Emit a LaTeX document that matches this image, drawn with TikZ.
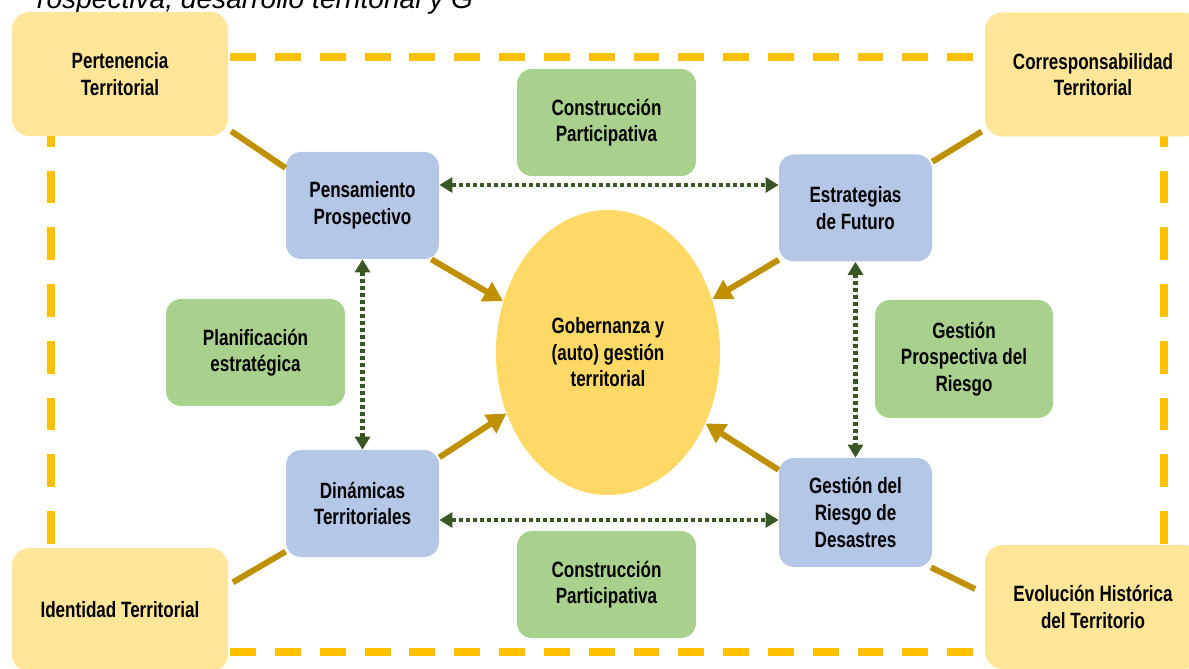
\documentclass[tikz,border=0pt]{standalone}
\usepackage{fontspec}
\setmainfont{Liberation Sans}[FakeStretch=0.77,UprightFont=*-Bold]
\newfontfamily\captionfont{Liberation Sans}
\usetikzlibrary{shapes.geometric,arrows.meta}

\definecolor{marco}{HTML}{FFC000}
\definecolor{arena}{HTML}{FFE699}
\definecolor{celeste}{HTML}{B4C7E7}
\definecolor{verde}{HTML}{A9D18E}
\definecolor{oro}{HTML}{FFD966}
\definecolor{ocre}{HTML}{BF9000}
\definecolor{musgo}{HTML}{385723}

\tikzset{
  caja/.style={rounded corners=0.3cm, align=center, inner sep=0pt,
    font=\fontsize{12.6}{15.1}\selectfont},
  exterior/.style={caja, fill=arena, minimum width=4.32cm, minimum height=2.48cm, rounded corners=0.35cm},
  eje/.style={caja, fill=celeste, minimum width=3.06cm, minimum height=2.14cm},
  enlace/.style={caja, fill=verde, minimum width=3.58cm, minimum height=2.14cm},
  centro/.style={ellipse, fill=oro, minimum width=4.48cm, minimum height=5.7cm, align=center,
    inner sep=0pt, font=\fontsize{12.6}{15.1}\selectfont},
  union/.style={draw=ocre, line width=3.4pt},
  aporte/.style={union, -{Triangle[length=11pt,width=12pt]}},
  ciclo/.style={draw=musgo, line width=2.3pt, dash pattern=on 2.3pt off 1.7pt,
    {Triangle[length=7.4pt,width=8.5pt]}-{Triangle[length=7.4pt,width=8.5pt]}}
}

\begin{document}
\begin{tikzpicture}
\clip (0,0) rectangle (23.78,13.36);

% marco discontinuo
\draw[marco, line width=4.5pt, dash pattern=on 14.7pt off 10.8pt] (1.02,12.22) -- (23.28,12.22);
\draw[marco, line width=4.5pt, dash pattern=on 14.7pt off 10.8pt] (1.02,0.32) -- (23.28,0.32);
\draw[marco, line width=4.5pt, dash pattern=on 18.7pt off 13.6pt] (1.02,12.22) -- (1.02,0.32);
\draw[marco, line width=4.5pt, dash pattern=on 18.7pt off 13.6pt] (23.28,12.22) -- (23.28,0.32);

\node[anchor=base west, font=\captionfont\itshape\fontsize{16}{18}\selectfont] (titulo)
  at (0.62,13.18) {rospectiva, desarrollo territorial y G};

\node[exterior] (pert) at (2.40,11.88) {Pertenencia\\Territorial};
\node[exterior] (corr) at (21.86,11.87) {Corresponsabilidad\\Territorial};
\node[exterior] (iden) at (2.40,1.16) {Identidad Territorial};
\node[exterior] (evol) at (21.86,1.22) {Evolución Histórica\\del Territorio};

\node[eje] (pens) at (7.25,9.25) {Pensamiento\\Prospectivo};
\node[eje] (estr) at (17.11,9.20) {Estrategias\\de Futuro};
\node[eje] (dina) at (7.25,3.29) {Dinámicas\\Territoriales};
\node[eje, minimum height=2.18cm] (gest) at (17.11,3.11) {Gestión del\\Riesgo de\\Desastres};

\node[enlace] (cons1) at (12.13,10.91) {Construcción\\Participativa};
\node[enlace] (cons2) at (12.13,1.67) {Construcción\\Participativa};
\node[enlace] (plan) at (5.11,6.31) {Planificación\\estratégica};
\node[enlace, minimum width=3.56cm, minimum height=2.36cm] (gpr) at (19.28,6.18) {Gestión\\Prospectiva del\\Riesgo};

\node[centro] (gob) at (12.16,6.31) {Gobernanza y\\(auto) gestión\\territorial};

\draw[union, shorten <=2pt] (pert.333) -- (pens.154);
\draw[union, shorten <=2pt] (corr.207) -- (estr.31);
\draw[union, shorten <=3pt] (iden.13) -- (dina.212);
\draw[union, shorten >=6pt] (gest.324) -- (evol.173);

\draw[aporte] (pens.322) -- (gob.154);
\draw[aporte] (estr.214) -- (gob.27);
\draw[aporte] (dina.31) -- (gob.211);
\draw[aporte] (gest.151) -- (gob.324);

\draw[ciclo] ([yshift=0.41cm]pens.east) -- ([yshift=0.41cm]pens.east -| estr.west);
\draw[ciclo] ([yshift=-0.33cm]dina.east) -- ([yshift=-0.33cm]dina.east -| gest.west);
\draw[ciclo] (pens) -- (dina);
\draw[ciclo] (estr) -- (gest);
\end{tikzpicture}
\end{document}
